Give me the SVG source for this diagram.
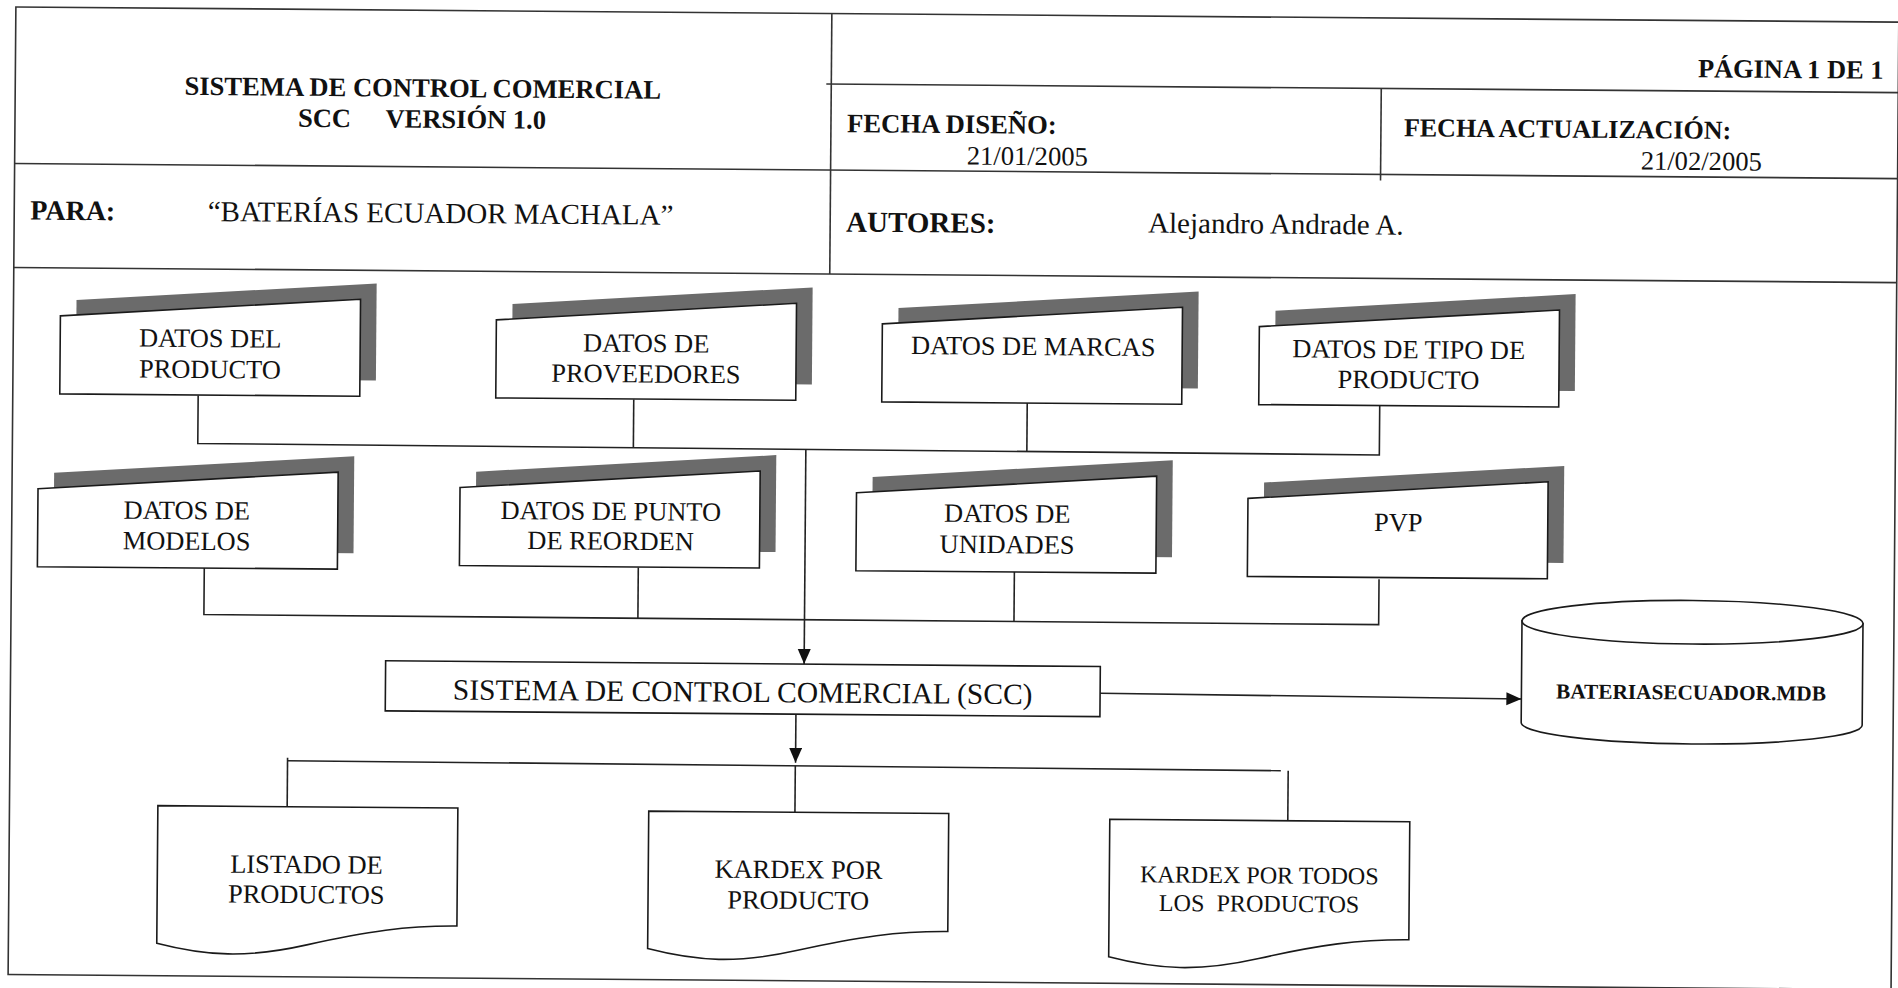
<svg xmlns="http://www.w3.org/2000/svg" xmlns:xlink="http://www.w3.org/1999/xlink" width="1898" height="988" viewBox="0 0 1898 988">
<style>
  .ln{fill:none;stroke:#222;stroke-width:1.6}
  .frame{fill:none;stroke:#333;stroke-width:1.6}
  .front{fill:#fff;stroke:#1a1a1a;stroke-width:1.6}
  .shd{fill:#6b6b6b;stroke:none}
  .t{font-family:"Liberation Serif","Times New Roman",serif;fill:#111}
  .b{font-weight:bold}
  .c{text-anchor:middle}
  .n{font-size:26.4px}
</style>
<defs>
  <path id="card" d="M0,19 L300,0 L300,97 L0,97 Z"/>
  <path id="doc" d="M0,0 L300,0 L300,118 C250,118 210,124 150,138 C90,152 50,150 0,137.5 Z"/>
  <marker id="ah" markerUnits="userSpaceOnUse" markerWidth="16" markerHeight="14" refX="15" refY="6.5" orient="auto">
    <path d="M0,0 L15,6.5 L0,13 Z" fill="#111"/>
  </marker>
</defs>
<rect width="1898" height="988" fill="#fff"/>
<g transform="rotate(0.46 949 494)">
  <g id="header">
    <rect class="frame" x="12" y="14.5" width="1883" height="967.5"/>
    <line class="frame" x1="12" y1="171" x2="1895" y2="171"/>
    <line class="frame" x1="12" y1="275" x2="1895" y2="275"/>
    <line class="frame" x1="828" y1="14.5" x2="828" y2="275"/>
    <line class="frame" x1="823" y1="85" x2="1895" y2="85"/>
    <line class="frame" x1="1378" y1="85" x2="1378" y2="177"/>
    <text class="t b c" x="419.5" y="101" font-size="26.6">SISTEMA DE CONTROL COMERCIAL</text>
    <text class="t b" y="132" font-size="26.5"><tspan x="295">SCC</tspan><tspan x="382.5">VERSIÓN 1.0</tspan></text>
    <text class="t b" x="1880" y="71.3" font-size="26.4" text-anchor="end">PÁGINA 1 DE 1</text>
    <text class="t b" x="844" y="133" font-size="26.7">FECHA DISEÑO:</text>
    <text class="t" x="964" y="164.4" font-size="26.6">21/01/2005</text>
    <text class="t b" x="1401" y="132.7" font-size="26">FECHA ACTUALIZACIÓN:</text>
    <text class="t" x="1638" y="164" font-size="26.6">21/02/2005</text>
    <text class="t b" x="28" y="227" font-size="28">PARA:</text>
    <text class="t" x="205.5" y="227" font-size="29">“BATERÍAS ECUADOR MACHALA”</text>
    <text class="t b" x="844" y="232.5" font-size="29">AUTORES:</text>
    <text class="t" x="1146" y="231" font-size="29">Alejandro Andrade A.</text>
  </g>
  <g id="connectors">
    <path class="ln" d="M197.4,401.5 L197.4,449.5 L1379,451.5 L1379,402"/>
    <path class="ln" d="M633,402 L633,450.3"/>
    <path class="ln" d="M1026.5,402.4 L1026.5,451"/>
    <path class="ln" d="M204.9,574 L204.9,620.5 L1379.7,621.2 L1379.7,575.8"/>
    <path class="ln" d="M638.9,570 L638.9,620.7"/>
    <path class="ln" d="M1015,571.5 L1015,620.9"/>
    <line class="ln" x1="805.5" y1="450.5" x2="805.5" y2="665.2" marker-end="url(#ah)"/>
    <line class="ln" x1="797.7" y1="715.4" x2="797.7" y2="764" marker-end="url(#ah)"/>
    <line class="ln" x1="1101.7" y1="692" x2="1523" y2="694.4" marker-end="url(#ah)"/>
    <path class="ln" d="M289.7,763 L289.7,812"/>
    <path class="ln" d="M289.7,766 L1283,768"/>
    <path class="ln" d="M797.5,767 L797.5,813.5"/>
    <path class="ln" d="M1290.4,768 L1290.4,818"/>
  </g>
  <g id="n-datos-producto">
    <use href="#card" xlink:href="#card" class="shd" x="75" y="288"/>
    <use href="#card" xlink:href="#card" class="front" x="59" y="304"/>
    <text class="t c n" x="209" y="353">DATOS DEL</text>
    <text class="t c n" x="209" y="384">PRODUCTO</text>
  </g>
  <g id="n-datos-proveedores">
    <use href="#card" xlink:href="#card" class="shd" x="511" y="288.5"/>
    <use href="#card" xlink:href="#card" class="front" x="495" y="304.5"/>
    <text class="t c n" x="645" y="354.5">DATOS DE</text>
    <text class="t c n" x="645" y="385">PROVEEDORES</text>
  </g>
  <g id="n-datos-marcas">
    <use href="#card" xlink:href="#card" class="shd" x="897" y="289.4"/>
    <use href="#card" xlink:href="#card" class="front" x="881" y="305.4"/>
    <text class="t c n" x="1032" y="354.4">DATOS DE MARCAS</text>
  </g>
  <g id="n-datos-tipo">
    <use href="#card" xlink:href="#card" class="shd" x="1274" y="289.1"/>
    <use href="#card" xlink:href="#card" class="front" x="1258" y="305.1"/>
    <text class="t c n" x="1407.5" y="354.6">DATOS DE TIPO DE</text>
    <text class="t c n" x="1407.5" y="384.8">PRODUCTO</text>
  </g>
  <g id="n-datos-modelos">
    <use href="#card" xlink:href="#card" class="shd" x="54" y="461"/>
    <use href="#card" xlink:href="#card" class="front" x="38" y="477"/>
    <text class="t c n" x="187" y="525.3">DATOS DE</text>
    <text class="t c n" x="187" y="556">MODELOS</text>
  </g>
  <g id="n-datos-reorden">
    <use href="#card" xlink:href="#card" class="shd" x="476" y="456.5"/>
    <use href="#card" xlink:href="#card" class="front" x="460" y="472.5"/>
    <text class="t c n" x="611" y="522.7">DATOS DE PUNTO</text>
    <text class="t c n" x="611" y="552.4">DE REORDEN</text>
  </g>
  <g id="n-datos-unidades">
    <use href="#card" xlink:href="#card" class="shd" x="872.5" y="458.5"/>
    <use href="#card" xlink:href="#card" class="front" x="856.5" y="474.5"/>
    <text class="t c n" x="1007.5" y="521.8">DATOS DE</text>
    <text class="t c n" x="1007.5" y="552.8">UNIDADES</text>
  </g>
  <g id="n-pvp">
    <use href="#card" xlink:href="#card" class="shd" x="1264" y="461"/>
    <use href="#card" xlink:href="#card" class="front" x="1248" y="477"/>
    <text class="t c n" x="1398.5" y="527.7">PVP</text>
  </g>
  <g id="n-scc">
    <rect class="front" x="387" y="665.3" width="714.7" height="50.1"/>
    <text class="t c" x="744.3" y="703.5" font-size="29.5">SISTEMA DE CONTROL COMERCIAL (SCC)</text>
  </g>
  <g id="n-db">
    <path class="front" d="M1523,616.3 L1523,718 A170.5,20 0 0 0 1864,718 L1864,616.3 Z"/>
    <ellipse class="front" cx="1693.5" cy="616.3" rx="170.5" ry="21.8"/>
    <text class="t b c" x="1692.6" y="693.6" font-size="21.3">BATERIASECUADOR.MDB</text>
  </g>
  <g id="n-listado">
    <use href="#doc" xlink:href="#doc" class="front" x="160.4" y="812"/>
    <text class="t c n" x="309.5" y="878.4">LISTADO DE</text>
    <text class="t c n" x="309.5" y="908.4">PRODUCTOS</text>
  </g>
  <g id="n-kardex-producto">
    <use href="#doc" xlink:href="#doc" class="front" x="651.3" y="813.5"/>
    <text class="t c n" x="801.5" y="879.5">KARDEX POR</text>
    <text class="t c n" x="801.5" y="910.2">PRODUCTO</text>
  </g>
  <g id="n-kardex-todos">
    <use href="#doc" xlink:href="#doc" class="front" x="1112.4" y="818"/>
    <text class="t c" x="1262.4" y="880.8" font-size="24.1">KARDEX POR TODOS</text>
    <text class="t c" x="1262.4" y="909.2" font-size="24.1" xml:space="preserve">LOS  PRODUCTOS</text>
  </g>
</g>
</svg>
